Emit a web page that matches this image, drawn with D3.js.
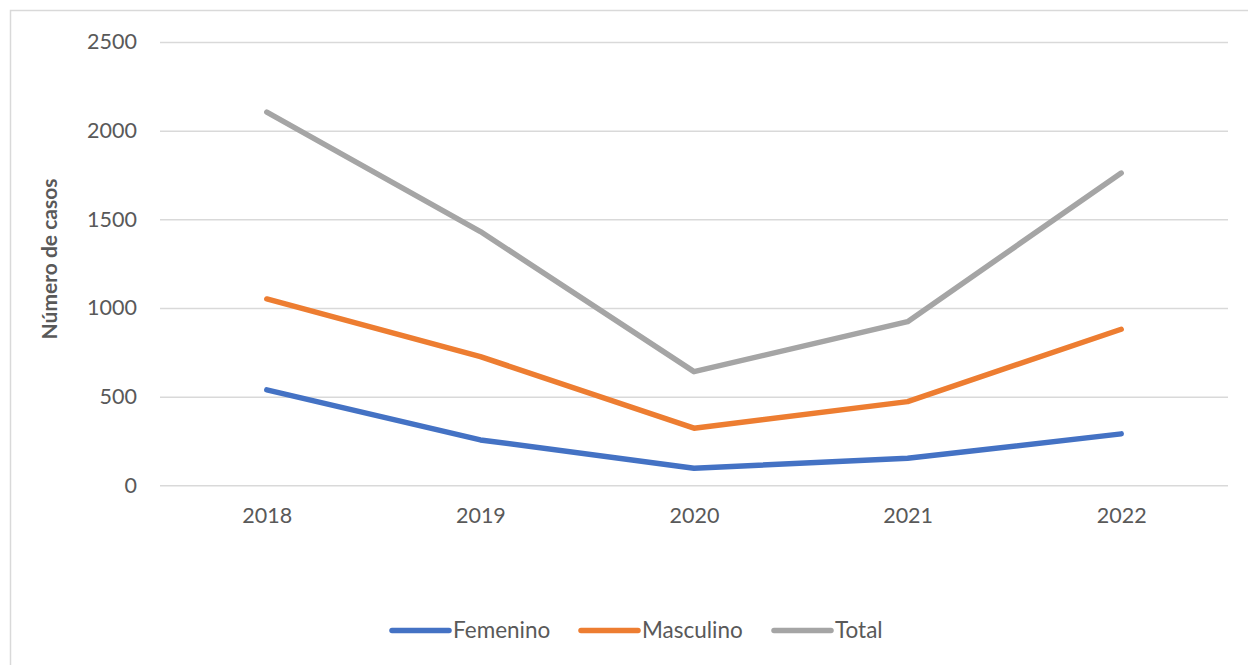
<!DOCTYPE html>
<html>
<head>
<meta charset="utf-8">
<script src="https://cdn.jsdelivr.net/npm/d3@7"></script>
<style>
  html, body { margin: 0; padding: 0; background: #fff; }
  svg { display: block; }
  text { font-family: Lato, "Open Sans", "Liberation Sans", sans-serif; fill: #595959; }
</style>
</head>
<body>
<svg id="chart" width="1248" height="665"></svg>
<script>
// Casos por año y sexo
const years = ["2018", "2019", "2020", "2021", "2022"];
const femenino = [538, 256, 96, 152, 290];
const masculino = [1051, 726, 322, 472, 880];
const total = [2105, 1431, 641, 923, 1761];
const yTicks = [0, 500, 1000, 1500, 2000, 2500];
const seriesNames = ["Femenino", "Masculino", "Total"];
const seriesColors = ["#4472C4", "#ED7D31", "#A5A5A5"];

const series = [femenino, masculino, total].map((vals, i) => ({
  name: seriesNames[i],
  color: seriesColors[i],
  values: vals.map((v, j) => ({ year: years[j], value: v }))
}));

const svg = d3.select("#chart");
const W = 1248, H = 665;
const plot = { left: 160, right: 1228, top: 42, bottom: 485.3 };

// Frame of the chart area (top and left edges visible)
svg.append("rect")
  .attr("x", 10.5).attr("y", 10.5)
  .attr("width", W + 10).attr("height", H + 10)
  .attr("fill", "#fff")
  .attr("stroke", "#D9D9D9").attr("stroke-width", 1.5);

const x = d3.scalePoint().domain(years).range([plot.left, plot.right]).padding(0.5);
const y = d3.scaleLinear().domain([0, 2500]).range([plot.bottom, plot.top]);

// Horizontal gridlines and y tick labels
const yAxis = d3.axisLeft(y).tickValues(yTicks).tickSize(-(plot.right - plot.left)).tickPadding(23).tickFormat(d3.format("d"));
const gy = svg.append("g").attr("transform", `translate(${plot.left},0)`).call(yAxis);
gy.select(".domain").remove();
gy.selectAll(".tick line").attr("stroke", "#D9D9D9").attr("stroke-width", 1.5);
gy.selectAll(".tick text").attr("font-size", 21.5).attr("fill", "#595959")
  .attr("font-family", "Lato, 'Open Sans', sans-serif");

// Category labels
const xAxis = d3.axisBottom(x).tickSize(0).tickPadding(22);
const gx = svg.append("g").attr("transform", `translate(0,${plot.bottom})`).call(xAxis);
gx.select(".domain").remove();
gx.selectAll(".tick text").attr("font-size", 21.5).attr("fill", "#595959")
  .attr("font-family", "Lato, 'Open Sans', sans-serif");

// Axis title
svg.append("text")
  .attr("transform", `translate(57,259) rotate(-90)`)
  .attr("text-anchor", "middle")
  .attr("font-size", 21)
  .attr("font-weight", "bold")
  .attr("fill", "#595959")
  .text("Número de casos");

// Series lines
const line = d3.line().x(d => x(d.year)).y(d => y(d.value));
svg.append("g").selectAll("path")
  .data(series)
  .join("path")
  .attr("d", d => line(d.values))
  .attr("fill", "none")
  .attr("stroke", d => d.color)
  .attr("stroke-width", 5.5)
  .attr("stroke-linecap", "round")
  .attr("stroke-linejoin", "round");

// Legend
const legendX = [392, 581, 774];
const legendY = 630.5;
const lg = svg.append("g").selectAll("g")
  .data(series)
  .join("g")
  .attr("transform", (d, i) => `translate(${legendX[i]},${legendY})`);
lg.append("line")
  .attr("x1", 0).attr("x2", 57).attr("y1", 0).attr("y2", 0)
  .attr("stroke", d => d.color)
  .attr("stroke-width", 5.5)
  .attr("stroke-linecap", "round");
lg.append("text")
  .attr("x", 61).attr("y", 0)
  .attr("dy", "0.35em")
  .attr("font-size", 22.5)
  .text(d => d.name);
</script>
</body>
</html>
